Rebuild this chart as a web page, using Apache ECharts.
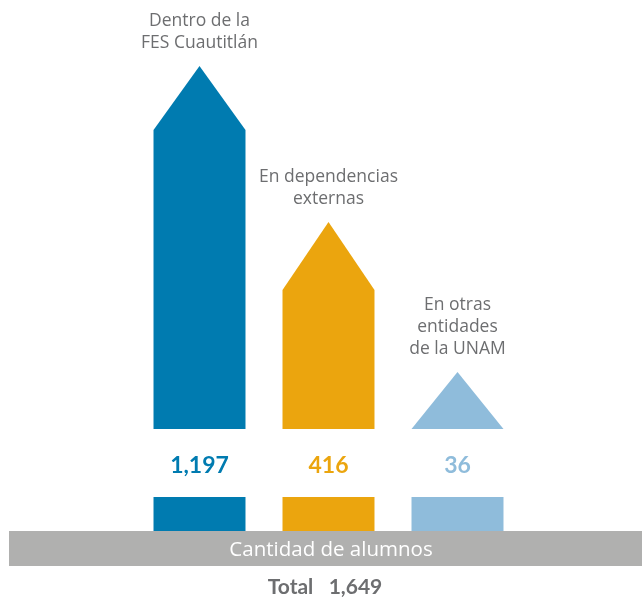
<!DOCTYPE html>
<html>
<head>
<meta charset="utf-8">
<script src="https://cdn.jsdelivr.net/npm/echarts@6/dist/echarts.min.js"></script>
<style>
  html, body { margin: 0; padding: 0; background: #fff; }
  #chart { width: 642px; height: 598px; }
</style>
</head>
<body>
<div id="chart"></div>
<script>
// alumnos por lugar donde realizan su servicio

const categories = ['Dentro de la\nFES Cuautitlán', 'En dependencias\nexternas', 'En otras\nentidades\nde la UNAM'];
const values = [1197, 416, 36];
// altura visual de la punta y del hombro de cada flecha (unidades del eje)
const tipHeight = [363, 207, 57];
const shoulderHeight = [299, 139, 0];
const colors = ['#007bb0', '#eba50e', '#8fbcdb'];

const total = values.reduce((a, b) => a + b, 0);
const fmt = v => v.toLocaleString('en-US');

const chart = echarts.init(document.getElementById('chart'));

const option = {
	animation: false,
	grid: { left: 135, width: 387, top: 29, height: 400 },
	xAxis: {
		type: 'category',
		data: categories,
		show: false
	},
	yAxis: {
		type: 'value',
		min: 0,
		max: 400,
		show: false
	},
	series: [
		{
			type: 'custom',
			data: categories.map((c, i) => [i, tipHeight[i], shoulderHeight[i], values[i]]),
			renderItem: (params, api) => {
				const i = params.dataIndex;
				const base = api.coord([i, 0]);
				const tip = api.coord([i, api.value(1)]);
				const shoulder = api.coord([i, api.value(2)]);
				const w = api.size([1, 0])[0] * 0.713;
				const x = base[0];
				const color = colors[i];
				return {
					type: 'group',
					children: [
						{
							type: 'polygon',
							shape: {
								points: [
									[x - w / 2, base[1]],
									[x - w / 2, shoulder[1]],
									[x, tip[1]],
									[x + w / 2, shoulder[1]],
									[x + w / 2, base[1]]
								]
							},
							style: { fill: color }
						},
						{
							type: 'rect',
							shape: { x: x - w / 2, y: base[1] + 68, width: w, height: 34 },
							style: { fill: color }
						},
						{
							type: 'text',
							x: x,
							y: base[1] + 37,
							style: {
								text: fmt(api.value(3)),
								fill: color,
								font: 'bold 23px Lato',
								align: 'center',
								verticalAlign: 'middle'
							}
						},
						{
							type: 'text',
							x: x,
							y: tip[1] - 12,
							style: {
								text: categories[i],
								fill: '#6d6e70',
								font: '17.5px "Open Sans"',
								lineHeight: 22,
								align: 'center',
								verticalAlign: 'bottom'
							}
						}
					]
				};
			}
		}
	],
	graphic: [
		{
			type: 'rect',
			shape: { x: 9, y: 531, width: 640, height: 35 },
			style: { fill: '#b0b0af' }
		},
		{
			type: 'text',
			x: 331,
			y: 550,
			style: {
				text: 'Cantidad de alumnos',
				fill: '#ffffff',
				font: '20.5px "Open Sans"',
				align: 'center',
				verticalAlign: 'middle'
			}
		},
		{
			type: 'text',
			x: 325,
			y: 587,
			style: {
				text: 'Total   ' + fmt(total),
				fill: '#6d6e70',
				font: 'bold 21px Lato',
				align: 'center',
				verticalAlign: 'middle'
			}
		}
	]
};

chart.setOption(option);
</script>
</body>
</html>
